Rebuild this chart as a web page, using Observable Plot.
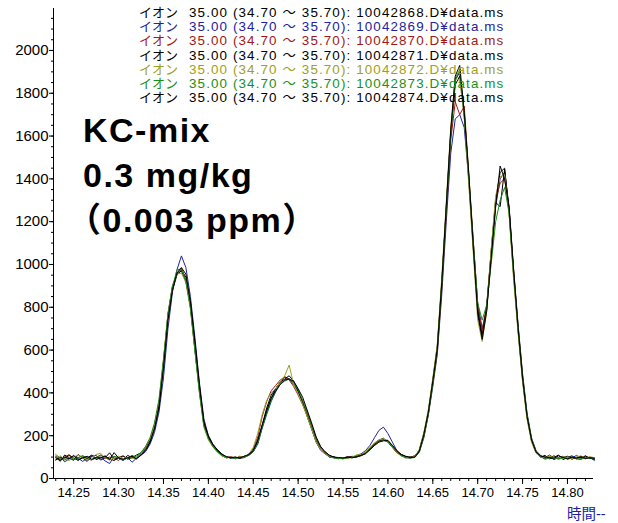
<!DOCTYPE html>
<html><head><meta charset="utf-8">
<script src="https://cdn.jsdelivr.net/npm/d3@7"></script>
<script src="https://cdn.jsdelivr.net/npm/@observablehq/plot@0.6"></script>
<style>
html,body{margin:0;padding:0;background:#fff;}
#wrap{position:relative;width:618px;height:523px;overflow:hidden;font-family:"Liberation Sans",Arial,"Noto Sans CJK JP",sans-serif;color:#000;}
#legend{position:absolute;left:139px;top:6px;font-size:13.4px;line-height:14.2px;letter-spacing:1.12px;white-space:pre;}
#legend .k{display:inline-block;width:50px;letter-spacing:0;font-size:13px;}
#note{position:absolute;left:83px;top:108px;font-weight:bold;font-size:34px;line-height:45px;letter-spacing:1.5px;white-space:pre;}
#note .p{margin-left:-16px;}
#xlab{position:absolute;left:567px;top:502px;font-size:14.5px;color:#2020a0;white-space:pre;}
</style></head>
<body><div id="wrap"><div id="chart"></div><div id="legend"></div><div id="note"></div><div id="xlab"></div></div>
<script>
// retention times (min)
const times = [
14.230,14.235,14.240,14.245,14.250,14.255,14.260,14.265,14.270,14.275,14.280,14.285,14.290,14.295,14.300,14.305,14.310,14.315,14.320,14.325,
14.330,14.335,14.340,14.345,14.350,14.355,14.360,14.365,14.370,14.375,14.380,14.385,14.390,14.395,14.400,14.405,14.410,14.415,14.420,14.425,
14.430,14.435,14.440,14.445,14.450,14.455,14.460,14.465,14.470,14.475,14.480,14.485,14.490,14.495,14.500,14.505,14.510,14.515,14.520,14.525,
14.530,14.535,14.540,14.545,14.550,14.555,14.560,14.565,14.570,14.575,14.580,14.585,14.590,14.595,14.600,14.605,14.610,14.615,14.620,14.625,
14.630,14.635,14.640,14.645,14.650,14.655,14.660,14.665,14.670,14.675,14.680,14.685,14.690,14.695,14.700,14.705,14.710,14.715,14.720,14.725,
14.730,14.735,14.740,14.745,14.750,14.755,14.760,14.765,14.770,14.775,14.780,14.785,14.790,14.795,14.800,14.805,14.810,14.815,14.820,14.825,14.830];

const s10042868 = [
100,80,110,95,85,112,96,80,104,108,86,97,120,90,97,86,108,98,92,112,
135,170,250,350,520,760,880,950,975,940,800,600,410,250,195,150,125,108,96,100,
92,104,98,115,128,180,250,330,390,420,450,475,465,440,405,355,290,235,175,135,
118,100,102,92,98,96,104,100,112,118,138,165,180,188,170,145,120,108,96,102,
100,135,210,300,460,620,920,1270,1620,1840,1880,1720,1400,1080,780,670,790,1060,1300,1430,
1450,1240,950,690,460,285,175,120,100,108,92,98,110,88,98,106,92,90,104,95,90];
const s10042869 = [
88,100,78,92,104,95,80,94,106,96,100,82,70,102,95,84,98,76,95,108,
125,160,215,310,470,700,870,975,1040,985,850,660,450,280,200,160,132,112,102,95,
98,96,104,108,125,160,235,300,360,405,440,460,465,450,410,355,295,230,170,132,
115,100,96,98,92,102,98,108,115,130,155,190,225,240,210,170,130,112,98,95,
102,125,190,295,430,580,860,1200,1520,1680,1700,1640,1400,1110,820,700,790,1030,1270,1400,
1430,1270,980,720,490,305,190,130,108,92,102,88,98,104,90,96,108,97,92,100,84];
const s10042870 = [
104,90,100,112,88,98,106,92,86,99,110,93,100,96,84,104,95,108,98,118,
142,180,245,345,540,745,885,960,985,925,805,615,430,260,188,152,128,106,98,102,
96,98,104,110,140,195,290,360,410,435,460,475,460,430,390,345,295,245,185,142,
122,106,98,94,96,102,98,104,108,122,142,158,176,182,178,152,128,108,102,98,
108,128,195,305,445,590,890,1240,1580,1760,1700,1740,1430,1120,810,690,810,1060,1300,1380,
1400,1260,970,710,480,295,182,128,102,98,110,96,94,102,95,98,92,104,94,98,95];
const s10042871 = [
86,100,94,108,96,84,100,95,110,88,97,104,92,84,98,106,90,97,110,120,
145,178,235,330,545,770,900,955,970,920,815,630,425,258,192,158,132,112,100,96,
100,94,98,110,126,170,245,315,375,420,450,465,480,455,410,360,310,250,190,145,
124,108,98,97,94,98,102,100,106,116,136,158,175,180,172,148,122,112,102,97,
103,132,205,315,455,610,910,1260,1610,1860,1900,1690,1410,1090,790,660,805,1040,1290,1270,
1445,1255,955,695,465,288,178,122,104,100,97,106,94,98,104,90,99,96,106,94,91];
const s10042872 = [
96,106,90,84,100,110,97,88,98,112,118,96,86,95,104,92,100,95,97,118,
145,185,250,360,560,770,895,955,960,915,790,600,400,240,180,148,122,106,98,100,
96,102,100,115,145,210,300,365,400,420,450,480,530,440,395,345,290,232,172,135,
116,102,97,96,98,94,100,110,112,124,146,165,180,186,172,146,120,105,98,96,
104,135,215,320,470,625,940,1290,1640,1870,1860,1690,1380,1060,740,640,780,1070,1320,1410,
1420,1230,930,680,450,275,170,118,100,96,104,98,96,102,98,94,100,106,96,102,97];
const s10042873 = [
112,95,86,100,90,96,106,98,88,95,108,98,92,104,97,86,95,102,104,122,
150,190,260,370,555,765,895,975,980,920,800,600,405,245,185,150,126,108,100,98,
94,98,100,108,125,165,240,305,365,410,440,455,465,450,415,365,310,250,190,145,
122,104,96,94,92,96,100,102,108,118,135,155,172,178,172,150,124,106,98,96,
98,122,195,300,440,600,905,1260,1610,1870,1910,1700,1420,1110,820,740,810,1000,1200,1300,
1360,1240,960,710,480,300,185,128,102,90,96,98,90,96,92,100,95,90,98,96,93];
const s10042874 = [
97,86,100,92,108,88,96,104,90,97,95,106,88,121,96,90,97,104,92,110,
130,168,230,335,515,740,880,960,985,955,830,640,440,265,200,160,135,115,102,97,
100,96,104,112,132,178,250,318,375,410,440,460,465,455,420,380,320,260,195,150,
125,108,100,98,96,100,96,102,108,116,134,154,170,176,178,155,130,112,104,98,
100,128,205,310,455,605,915,1275,1630,1880,1930,1710,1430,1090,770,650,780,1030,1270,1460,
1400,1265,975,705,470,290,180,124,106,100,98,94,106,98,92,100,95,102,94,97,95];

const seriesNames = ["10042868","10042869","10042870","10042871","10042872","10042873","10042874"];
const seriesValues = [s10042868,s10042869,s10042870,s10042871,s10042872,s10042873,s10042874];
const seriesColors = ["#000000","#2222a0","#a01818","#000000","#a0a020","#179017","#000000"];

const xTicks = [14.25,14.30,14.35,14.40,14.45,14.50,14.55,14.60,14.65,14.70,14.75,14.80];
const yTicks = [0,200,400,600,800,1000,1200,1400,1600,1800,2000];
const legendPrefix = "イオン";
const legendRange = "35.00 (34.70 〜 35.70): ";
const legendSuffix = ".D¥data.ms";
const noteLines = ["KC-mix","0.3 mg/kg","（0.003 ppm）"];
const xAxisTitle = "時間--";

const rows = [];
seriesNames.forEach((name, i) => seriesValues[i].forEach((v, j) => rows.push({t: times[j], v, s: name})));

const xMinor = d3.range(23, 83).map(d => 14 + d / 100);
const yMinor = d3.range(0, 2200, 50);

const chart = Plot.plot({
  width: 618, height: 523,
  marginLeft: 53, marginRight: 25, marginTop: 8, marginBottom: 45,
  x: {domain: [14.2275, 14.829], label: null},
  y: {domain: [0, 2196], label: null},
  color: {domain: seriesNames, range: seriesColors},
  style: {fontFamily: '"Liberation Sans", Arial, sans-serif', fontSize: "13px", color: "#000", background: "#fff"},
  marks: [
    Plot.axisY(yMinor, {tickSize: 2, tickFormat: () => "", label: null}),
    Plot.axisY(yTicks, {tickSize: 4, tickPadding: 1, fontSize: 15, tickFormat: d => String(d), label: null}),
    Plot.axisX(xMinor, {tickSize: 3, tickFormat: () => "", label: null}),
    Plot.axisX(xTicks, {tickSize: 6, tickPadding: 3, fontSize: 13, tickFormat: d => d.toFixed(2), label: null}),
    Plot.ruleX([14.2275]),
    Plot.ruleY([0]),
    Plot.line(rows, {x: "t", y: "v", z: "s", stroke: "s", strokeWidth: 1})
  ]
});
document.getElementById("chart").appendChild(chart);

const leg = document.getElementById("legend");
seriesNames.forEach((name, i) => {
  const line = document.createElement("div");
  line.style.color = seriesColors[i];
  const k = document.createElement("span"); k.className = "k"; k.textContent = legendPrefix;
  const r = document.createElement("span"); r.textContent = legendRange + name + legendSuffix;
  line.appendChild(k); line.appendChild(r);
  leg.appendChild(line);
});
const note = document.getElementById("note");
noteLines.forEach((t, i) => {
  const d = document.createElement("div");
  d.textContent = t;
  if (t.startsWith("（")) d.className = "p";
  note.appendChild(d);
});
document.getElementById("xlab").textContent = xAxisTitle;
</script>
</body></html>
